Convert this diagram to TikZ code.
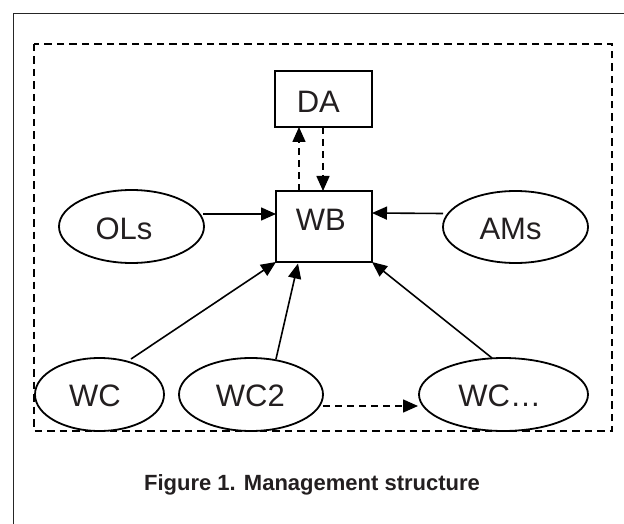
\documentclass[tikz,border=0pt]{standalone}
\usepackage{fontspec}
\setmainfont{Liberation Sans}
\usetikzlibrary{arrows.meta,shapes.geometric,calc}
\definecolor{ink}{HTML}{231F20}
\begin{document}
\begin{tikzpicture}[x=1pt,y=-1pt,
  boxnode/.style={draw=black,line width=1.8pt,rectangle,inner sep=0pt,outer sep=0pt},
  ellnode/.style={draw=black,line width=1.8pt,ellipse,inner sep=0pt,outer sep=0pt},
  txt/.style={text=ink,font=\fontsize{31}{31}\selectfont,inner sep=0pt,text height=22.2pt,text depth=0pt,anchor=center},
  arr/.style={line width=1.6pt,-{Triangle[length=15pt,width=13pt]}},
  darr/.style={arr,dash pattern=on 7pt off 5pt}]
\useasboundingbox (0,0) rectangle (624,524);
\fill[white] (0,0) rectangle (624,524);
% outer frame
\draw[line width=1.2pt,black!85] (13.5,524) -- (13.5,13.5) -- (624,13.5);
% dashed region
\draw[line width=1.7pt,dash pattern=on 7.5pt off 5pt] (34,44) rectangle (612,431);
% nodes
\node[boxnode,minimum width=97pt,minimum height=56pt] (da) at (323.5,99) {};
\node[boxnode,minimum width=96pt,minimum height=71pt] (wb) at (324,226.5) {};
\node[ellnode,minimum width=145pt,minimum height=73pt] (ols) at (131.5,226.5) {};
\node[ellnode,minimum width=145pt,minimum height=72pt] (ams) at (515.5,227) {};
\node[ellnode,minimum width=129pt,minimum height=73pt] (wc) at (99.5,394.5) {};
\node[ellnode,minimum width=144pt,minimum height=73pt] (wc2) at (251,394.5) {};
\node[ellnode,minimum width=169pt,minimum height=73pt] (wcd) at (503.5,394.5) {};
% texts
\node[txt] (daT) at (318.3,101.7) {DA};
\node[txt] (wbT) at (320.8,219.7) {WB};
\node[txt] (olsT) at (124,228.5) {OLs};
\node[txt] (amsT) at (510.5,228) {AMs};
\node[txt] (wcT) at (95,395.8) {WC};
\node[txt] (wc2T) at (250.3,395.8) {WC2};
\node[txt] (wcdT) at (499.8,395.8) {WC…};
\node[text=ink,font=\bfseries\fontsize{22}{22}\selectfont,inner sep=0pt,text height=15.8pt,text depth=0pt] (cap) at (312,483) {Figure 1. Management structure};
% connector end points
\coordinate (wbL) at ($(wb.west)+(0,-12.5)$);
\coordinate (wbR) at ($(wb.east)+(0,-13.5)$);
\coordinate (olsR) at ($(ols.east)+(-1,-12.5)$);
\coordinate (amsL) at ($(ams.west)+(0,-13.5)$);
\coordinate (wbTopA) at ($(wb.north)+(-25,0)$);
\coordinate (daBotA) at ($(da.south)+(-24.5,0)$);
\coordinate (wbTopB) at ($(wb.north)+(-1,0)$);
\coordinate (daBotB) at ($(da.south)+(-0.5,0)$);
\coordinate (wcS) at ($(wc.center)+(31.5,-35.5)$);
\coordinate (wc2S) at ($(wc2.center)+(25,-35.5)$);
\coordinate (wcdS) at ($(wcd.center)+(-11.5,-36.5)$);
\coordinate (wbB) at ($(wb.south)+(-26,1.5)$);
\coordinate (wc2R) at ($(wc2.east)+(0,11.5)$);
\coordinate (wcdL) at ($(wcd.west)+(-1,11.5)$);
% connectors
\draw[arr] (olsR) -- (wbL);
\draw[arr] (amsL) -- (wbR);
\draw[darr] (wbTopA) -- (daBotA);
\draw[darr] (daBotB) -- (wbTopB);
\draw[arr] (wcS) -- (wb.south west);
\draw[arr] (wc2S) -- (wbB);
\draw[arr] (wcdS) -- (wb.south east);
\draw[darr] (wc2R) -- (wcdL);
\end{tikzpicture}
\end{document}
